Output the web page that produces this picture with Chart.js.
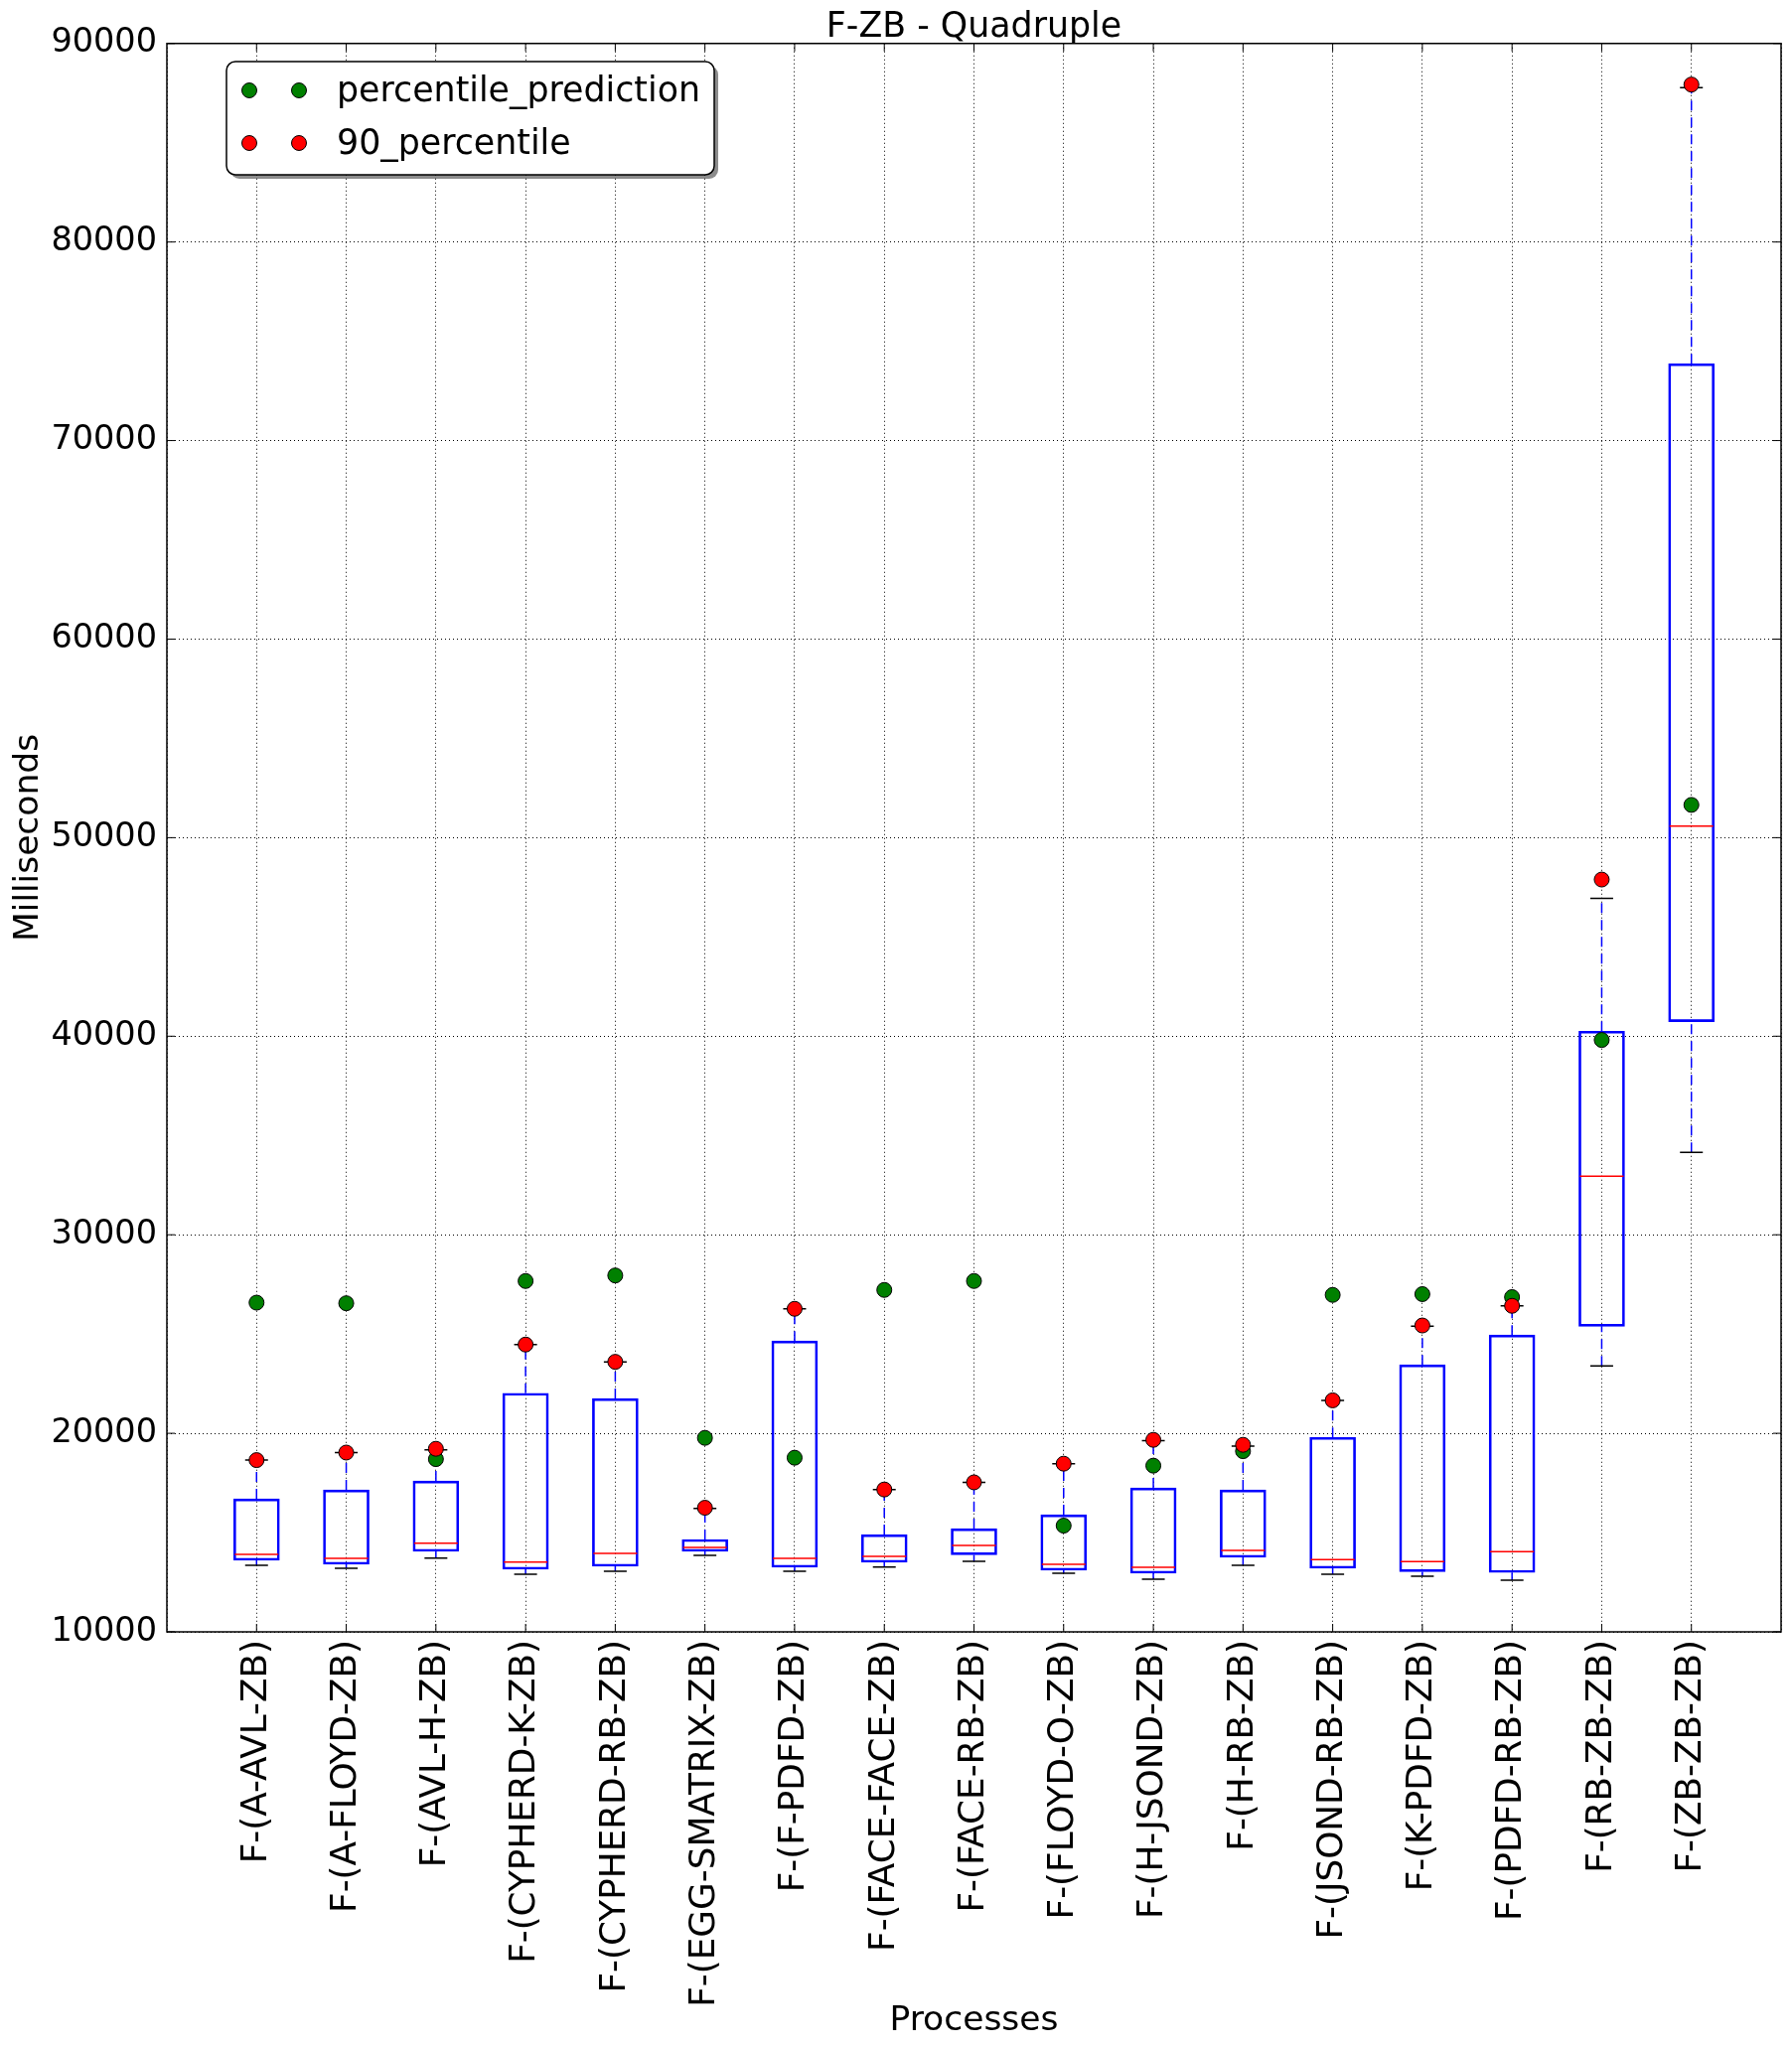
<!DOCTYPE html>
<html>
<head>
<meta charset="utf-8">
<script src="https://cdn.jsdelivr.net/npm/chart.js@4.4.0/dist/chart.umd.min.js"></script>
<style>
  html, body { margin: 0; padding: 0; background: #fff; }
  #wrap { width: 1804px; height: 2063px; }
</style>
</head>
<body>
<div id="wrap"><canvas id="chart" width="1804" height="2063"></canvas></div>
<script>
// process names on the x axis
const processes = [
  "F-(A-AVL-ZB)", "F-(A-FLOYD-ZB)", "F-(AVL-H-ZB)", "F-(CYPHERD-K-ZB)",
  "F-(CYPHERD-RB-ZB)", "F-(EGG-SMATRIX-ZB)", "F-(F-PDFD-ZB)", "F-(FACE-FACE-ZB)",
  "F-(FACE-RB-ZB)", "F-(FLOYD-O-ZB)", "F-(H-JSOND-ZB)", "F-(H-RB-ZB)",
  "F-(JSOND-RB-ZB)", "F-(K-PDFD-ZB)", "F-(PDFD-RB-ZB)", "F-(RB-ZB-ZB)", "F-(ZB-ZB-ZB)"
];

// box plot stats (ms)
const whiskerLow  = [13350, 13200, 13720, 12900, 13050, 13850, 13050, 13270, 13550, 12950, 12650, 13350, 12900, 12800, 12600, 23400, 34150];
const q1          = [13600, 13400, 14050, 13150, 13300, 14050, 13250, 13500, 13880, 13100, 12950, 13750, 13200, 13030, 12990, 25390, 40730];
const median      = [13900, 13700, 14470, 13520, 13950, 14250, 13700, 13800, 14350, 13400, 13250, 14100, 13640, 13540, 14040, 32950, 50580];
const q3          = [16700, 17150, 17600, 22020, 21750, 14650, 24650, 14900, 15200, 15900, 17250, 17150, 19790, 23450, 24950, 40250, 73870];
const whiskerHigh = [18650, 19030, 19170, 24470, 23600, 16220, 26270, 17170, 17530, 18470, 19630, 19350, 21660, 25400, 26420, 46940, 87780];

// scatter series
const percentilePrediction = [26580, 26550, 18700, 27670, 27950, 19770, 18770, 27220, 27670, 15350, 18370, 19100, 26970, 27010, 26860, 39810, 51650];
const percentile90         = [18650, 19030, 19220, 24470, 23600, 16250, 26270, 17170, 17530, 18470, 19670, 19420, 21660, 25430, 26420, 47890, 87930];

const yTicks = [10000, 20000, 30000, 40000, 50000, 60000, 70000, 80000, 90000];

const FONT = "DejaVu Sans";

const whiskerData = [];
processes.forEach((_, i) => {
  whiskerData.push({x: i + 1, y: q3[i]}, {x: i + 1, y: whiskerHigh[i]}, {x: i + 1, y: null});
  whiskerData.push({x: i + 1, y: whiskerLow[i]}, {x: i + 1, y: q1[i]}, {x: i + 1, y: null});
});
const capData = [];
processes.forEach((_, i) => {
  capData.push({x: i + 1, y: whiskerLow[i]}, {x: i + 1, y: whiskerHigh[i]});
});

// frame + inward ticks, like the old matplotlib look
const framePlugin = {
  id: "frame",
  afterDraw(chart) {
    const {ctx, chartArea: a, scales} = chart;
    ctx.save();
    ctx.strokeStyle = "#000";
    ctx.lineWidth = 1.5;
    ctx.strokeRect(a.left, a.top, a.right - a.left, a.bottom - a.top);
    ctx.lineWidth = 1;
    ctx.beginPath();
    yTicks.forEach(v => {
      const y = scales.y.getPixelForValue(v);
      ctx.moveTo(a.left, y); ctx.lineTo(a.left + 8, y);
      ctx.moveTo(a.right, y); ctx.lineTo(a.right - 8, y);
    });
    processes.forEach((_, i) => {
      const x = scales.x.getPixelForValue(i + 1);
      ctx.moveTo(x, a.bottom); ctx.lineTo(x, a.bottom - 8);
      ctx.moveTo(x, a.top); ctx.lineTo(x, a.top + 8);
    });
    ctx.stroke();
    ctx.restore();
  }
};

// legend box with two markers per entry
const legendPlugin = {
  id: "mplLegend",
  afterDraw(chart) {
    const {ctx} = chart;
    const items = chart.data.datasets.filter(d => d.showInLegend);
    const x0 = 228, y0 = 62, w = 491, h = 114, r = 9;
    const rr = (x, y) => {
      ctx.beginPath();
      ctx.moveTo(x + r, y);
      ctx.arcTo(x + w, y, x + w, y + h, r);
      ctx.arcTo(x + w, y + h, x, y + h, r);
      ctx.arcTo(x, y + h, x, y, r);
      ctx.arcTo(x, y, x + w, y, r);
      ctx.closePath();
    };
    ctx.save();
    rr(x0 + 4, y0 + 4);
    ctx.fillStyle = "rgba(0,0,0,0.45)";
    ctx.fill();
    rr(x0, y0);
    ctx.fillStyle = "#fff";
    ctx.fill();
    ctx.lineWidth = 1.5;
    ctx.strokeStyle = "#000";
    ctx.stroke();
    items.forEach((d, k) => {
      const y = 91 + k * 53;
      [251, 301].forEach(x => {
        ctx.beginPath();
        ctx.arc(x, y, 7.5, 0, Math.PI * 2);
        ctx.fillStyle = d.pointBackgroundColor;
        ctx.fill();
        ctx.lineWidth = 1;
        ctx.strokeStyle = "#000";
        ctx.stroke();
      });
      ctx.fillStyle = "#000";
      ctx.font = "34.8px '" + FONT + "'";
      ctx.textBaseline = "middle";
      ctx.fillText(d.label, 339, y + 2);
    });
    ctx.restore();
  }
};

new Chart(document.getElementById("chart"), {
  type: "bar",
  data: {
    datasets: [
      {
        type: "bar",
        label: "box",
        data: processes.map((_, i) => ({x: i + 1, y: [q1[i], q3[i]]})),
        backgroundColor: "rgba(0,0,0,0)",
        borderColor: "#0000ff",
        borderWidth: 2,
        borderSkipped: false,
        barThickness: 46,
        order: 5
      },
      {
        type: "line",
        label: "whiskers",
        data: whiskerData,
        borderColor: "#0000ff",
        borderWidth: 1.5,
        borderDash: [10, 7],
        pointRadius: 0,
        spanGaps: false,
        order: 4
      },
      {
        type: "scatter",
        label: "caps",
        data: capData,
        pointStyle: "line",
        pointRadius: 11.5,
        pointBorderColor: "#000",
        pointBorderWidth: 1.5,
        order: 3
      },
      {
        type: "scatter",
        label: "median",
        data: median.map((v, i) => ({x: i + 1, y: v})),
        pointStyle: "line",
        pointRadius: 22,
        pointBorderColor: "#ff0000",
        pointBorderWidth: 1.5,
        order: 2
      },
      {
        type: "scatter",
        label: "percentile_prediction",
        showInLegend: true,
        data: percentilePrediction.map((v, i) => ({x: i + 1, y: v})),
        pointRadius: 7.5,
        pointBackgroundColor: "#008000",
        pointBorderColor: "#000",
        pointBorderWidth: 1,
        order: 1
      },
      {
        type: "scatter",
        label: "90_percentile",
        showInLegend: true,
        data: percentile90.map((v, i) => ({x: i + 1, y: v})),
        pointRadius: 7.5,
        pointBackgroundColor: "#ff0000",
        pointBorderColor: "#000",
        pointBorderWidth: 1,
        order: 0
      }
    ]
  },
  options: {
    responsive: false,
    animation: false,
    devicePixelRatio: 1,
    layout: {autoPadding: false, padding: {top: 0, right: 11, bottom: 0, left: 0}},
    plugins: {
      legend: {display: false},
      tooltip: {enabled: false},
      title: {
        display: true,
        text: "F-ZB - Quadruple",
        fullSize: false,
        color: "#000",
        font: {family: FONT, size: 34.8, weight: "normal"},
        padding: {top: 7, bottom: -5}
      }
    },
    scales: {
      x: {
        type: "linear",
        min: 0,
        max: 18,
        offset: false,
        z: 1,
        afterFit(scale) {
          scale.height = 420;
          scale.paddingLeft = 0;
          scale.paddingRight = 0;
        },
        grid: {color: "#000", lineWidth: 1, drawTicks: false, offset: false},
        border: {display: false, dash: [1, 3]},
        ticks: {
          stepSize: 1,
          autoSkip: false,
          minRotation: 90,
          maxRotation: 90,
          padding: 8,
          color: "#000",
          font: {family: FONT, size: 35.8},
          callback: v => processes[v - 1] || ""
        },
        title: {
          display: true,
          text: "Processes",
          color: "#000",
          font: {family: FONT, size: 34.5},
          padding: {top: 0, bottom: 7}
        }
      },
      y: {
        min: 10000,
        max: 90000,
        z: 1,
        afterFit(scale) {
          scale.width = 168;
          scale.paddingTop = 0;
          scale.paddingBottom = 0;
        },
        grid: {color: "#000", lineWidth: 1, drawTicks: false},
        border: {display: false, dash: [1, 3]},
        ticks: {
          stepSize: 10000,
          padding: 10,
          color: "#000",
          font: {family: FONT, size: 33.5},
          callback: v => String(v)
        },
        title: {
          display: true,
          text: "Milliseconds",
          color: "#000",
          font: {family: FONT, size: 34.5},
          padding: {top: 8, bottom: 0}
        }
      }
    }
  },
  plugins: [framePlugin, legendPlugin]
});
</script>
</body>
</html>
